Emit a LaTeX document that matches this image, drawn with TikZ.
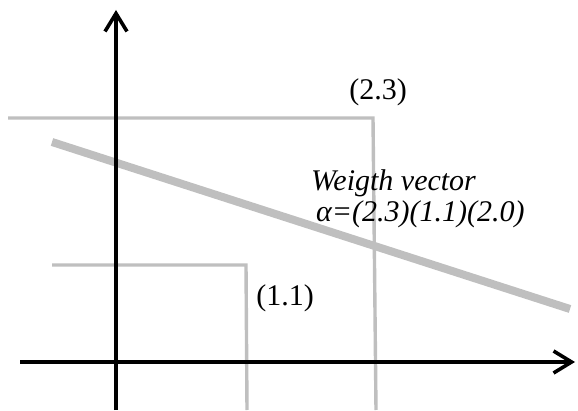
\documentclass[tikz,border=0pt]{standalone}
\usepackage{fontspec}
\usepackage{xcolor}
\usepackage{tikz}
\usetikzlibrary{arrows.meta,positioning}
\setmainfont{Liberation Serif}
\definecolor{boxgray}{RGB}{191,191,191}
\tikzset{
  axis line/.style={
    line width=3.6pt,
    -{Straight Barb[length=18pt,width=22pt,line width=3.6pt]}
  },
  region line/.style={
    draw=boxgray,
    line width=3.4pt
  },
  weight line/.style={
    draw=boxgray,
    line width=8pt
  },
  pt label/.style={
    inner sep=0pt,
    font=\fontsize{30}{31}\selectfont
  }
}
\begin{document}
\begin{tikzpicture}[x=1pt,y=1pt]
  \useasboundingbox (0,0) rectangle (578,410);

  % Regions (2.3) and (1.1)
  \coordinate (r23a) at (8,292);
  \coordinate (r23b) at (373,292);
  \coordinate (r23c) at (376,0);
  \draw[region line] (r23a) -- (r23b) -- (r23c);
  \coordinate (r11a) at (52,145);
  \coordinate (r11b) at (246,145);
  \coordinate (r11c) at (247,0);
  \draw[region line] (r11a) -- (r11b) -- (r11c);

  % Weight vector line
  \coordinate (w1) at (52,268);
  \coordinate (w2) at (570,101);
  \draw[weight line] (w1) -- (w2);

  % Axes
  \coordinate (ybot) at (116,0);
  \coordinate (ytop) at (116,400);
  \coordinate (xleft) at (20,48);
  \coordinate (xright) at (575,48);
  \draw[axis line] (ybot) -- (ytop);
  \draw[axis line] (xleft) -- (xright);

  % Labels
  \node[pt label] (lbl23) at (378,318) {(2.3)};
  \node[pt label] (lbl11) at (285,112) {(1.1)};
  \node[pt label, anchor=north west, align=left] (wvec) at (311,241)
    {\itshape Weigth vector\\\itshape\hspace{5pt}α=(2.3)(1.1)(2.0)};
\end{tikzpicture}
\end{document}
